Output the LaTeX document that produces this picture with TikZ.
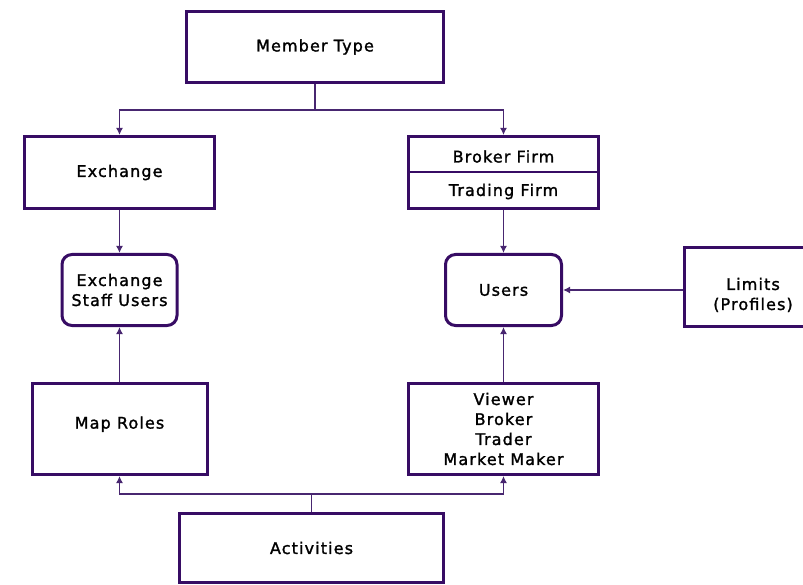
\documentclass[tikz,border=0pt]{standalone}
\usepackage{fontspec}
\setmainfont{DejaVu Sans}[LetterSpace=7,FakeBold=1.5]
\usepackage{tikz}
\usetikzlibrary{
        arrows.meta,
        positioning,
        shapes
    }
\definecolor{boxpurple}{RGB}{55,12,100}
\definecolor{linkpurple}{RGB}{72,38,112}
\tikzset{>={Latex[length=7pt,width=7pt]},shorten >=0pt,node distance=2cm}
\tikzset{box/.style={draw=boxpurple,line width=3pt,align=center,
                     font=\fontsize{16}{20}\selectfont,inner sep=0pt}}
\tikzset{roundbox/.style={box,rounded corners=10pt}}
\tikzset{link/.style={color=linkpurple,line width=1.4pt}}
\tikzset{elbow/.style={to path={-| (\tikztotarget)}}}
\tikzset{label/.style={font=\fontsize{16}{20}\selectfont,inner sep=0pt}}

\begin{document}
\begin{tikzpicture}[x=1pt,y=-1pt]
    \useasboundingbox (0,0) rectangle (803,585);

    \node[box,minimum width=257pt,minimum height=71pt] (mtype) at (315,47) {Member Type};
    \node[box,minimum width=190pt,minimum height=72pt] (exch) at (119.5,172.5) {Exchange};
    \node[box,minimum width=190pt,minimum height=72pt] (firms) [right of=exch,node distance=384pt] {};
        \node[label] (broker) [above of=firms,node distance=16pt] {Broker Firm};
        \node[label] (trading) [below of=firms,node distance=19pt] {Trading Firm};
    \draw[draw=boxpurple,line width=2pt] (firms.west) -- (firms.east);

    \node[roundbox,minimum width=115pt,minimum height=71pt] (esu) [below of=exch,node distance=117.5pt] {Exchange\\Staff Users};
    \node[roundbox,minimum width=116pt,minimum height=71pt] (users) [below of=firms,node distance=117.5pt] {Users};
    \node[box,minimum width=137pt,minimum height=79pt,text height=48pt] (limits) at (753,287) {Limits\\(Profiles)};

    \node[box,minimum width=175pt,minimum height=91pt,text depth=13pt] (roles) [below of=esu,node distance=139pt] {Map Roles};
    \node[box,minimum width=190pt,minimum height=91pt] (kinds) [below of=users,node distance=139pt] {Viewer\\Broker\\Trader\\Market Maker};
    \node[box,minimum width=264pt,minimum height=69pt] (acts) at (311.5,548) {Activities};

    \coordinate (mtsplit) at (315,110);
    \coordinate (actsplit) at (311.5,494);

    \path[link]
        (mtype) edge (mtsplit)
        (acts) edge (actsplit);
    \path[link,->]
        (mtsplit) edge[elbow] (exch)
        (mtsplit) edge[elbow] (firms)
        (exch) edge (esu)
        (firms) edge (users)
        (roles) edge (esu)
        (kinds) edge (users)
        (actsplit) edge[elbow] (roles)
        (actsplit) edge[elbow] (kinds)
        (limits.west |- users.east) edge (users.east);
\end{tikzpicture}
\end{document}
